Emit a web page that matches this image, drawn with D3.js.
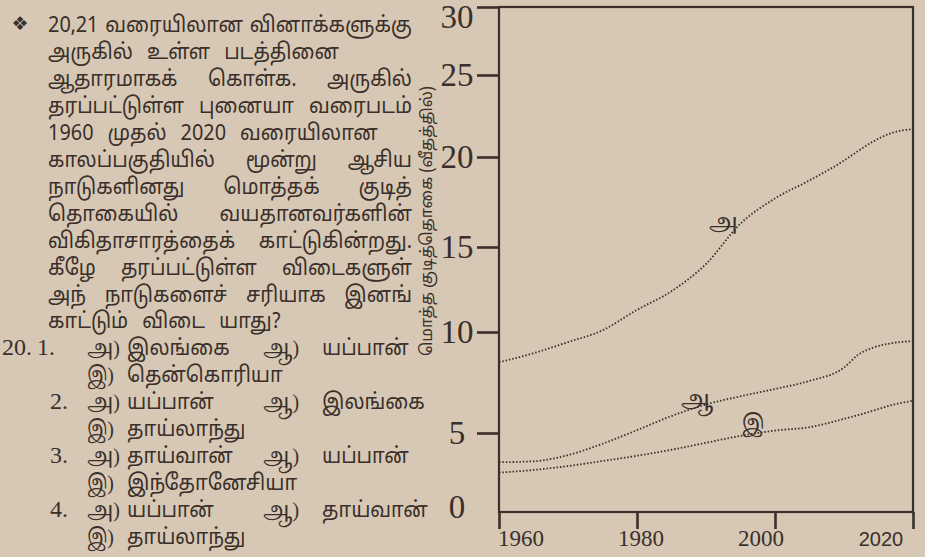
<!DOCTYPE html>
<html><head><meta charset="utf-8">
<script src="https://cdn.jsdelivr.net/npm/d3@7"></script>
<style>
html,body{margin:0;padding:0;background:#d6c8b4;}
svg{display:block;}
</style></head><body>
<svg id="c" width="925" height="557"></svg>
<script>
// ---------- data ----------
const years    = [1960,1965,1970,1975,1980,1985,1990,1995,2000,2005,2010,2012,2014,2017,2020];
const seriesA  = [8.5,8.95,9.5,10.1,11.3,12.4,14.0,16.3,17.7,18.7,19.8,20.35,20.89,21.48,21.7];
const seriesAa = [3.15,3.21,3.6,4.32,5.14,5.84,6.41,6.82,7.18,7.58,8.24,8.86,9.2,9.45,9.55];
const seriesI  = [2.49,2.66,2.91,3.23,3.56,3.94,4.38,4.82,5.12,5.29,5.7,5.88,6.08,6.39,6.6];
const seriesNames = ["அ","ஆ","இ"];
const labelYears  = [1992.5, 1988.7, 1996.8];
const labelValues = [16.4, 6.73, 5.5];
const yTicks = [0,5,10,15,20,25,30];
const xTicks = [1960,1980,2000,2020];
const yTitle = "மொத்த குடித்தொகை (வீதத்தில்)";
const questionLines = [
  "20,21 வரையிலான வினாக்களுக்கு",
  "அருகில் உள்ள படத்தினை",
  "ஆதாரமாகக் கொள்க. அருகில்",
  "தரப்பட்டுள்ள புனையா வரைபடம்",
  "1960 முதல் 2020 வரையிலான",
  "காலப்பகுதியில் மூன்று ஆசிய",
  "நாடுகளினது மொத்தக் குடித்",
  "தொகையில் வயதானவர்களின்",
  "விகிதாசாரத்தைக் காட்டுகின்றது.",
  "கீழே தரப்பட்டுள்ள விடைகளுள்",
  "அந் நாடுகளைச் சரியாக இனங்",
  "காட்டும் விடை யாது?"
];
const questionNo = "20.";
const optionNos = ["1.","2.","3.","4."];
const optionA = ["இலங்கை","யப்பான்","தாய்வான்","யப்பான்"];
const optionAa = ["யப்பான்","இலங்கை","யப்பான்","தாய்வான்"];
const optionI = ["தென்கொரியா","தாய்லாந்து","இந்தோனேசியா","தாய்லாந்து"];

// ---------- setup ----------
const ink = "#3a2f2a";
const tamil = "'Noto Sans Tamil','Lohit Tamil','Latha','Noto Sans',sans-serif";
const serifT = "'Liberation Serif','Noto Serif Tamil','Noto Sans Tamil',serif";
const svg = d3.select("#c");
svg.append("rect").attr("width",925).attr("height",557).attr("fill","#d6c8b4");

// hand-drawn axis calibration (piecewise linear)
const y = d3.scaleLinear().domain(yTicks).range([512,433,332,247,157,75,7]);
const x = d3.scaleLinear().domain([1960,2020]).range([499,913]);
const xLab = d3.scaleLinear().domain([1960,2020]).range([521,881]);

const chart = svg.append("g");
const [x0,x1] = x.range();
chart.append("rect").attr("x",x0).attr("y",y(30)).attr("width",x1-x0).attr("height",y(0)-y(30))
  .attr("fill","none").attr("stroke",ink).attr("stroke-width",2.2);

// y ticks
const ya = chart.append("g").attr("transform",`translate(${x0},0)`)
  .call(d3.axisLeft(y).tickValues(yTicks.filter(v=>v>0)).tickSize(22).tickFormat(""));
ya.select(".domain").remove();
ya.selectAll("line").attr("stroke",ink).attr("stroke-width",2.6);
chart.selectAll(".ylab").data(yTicks).join("text").attr("class","ylab")
  .attr("x",457).attr("y",d=>Math.min(Math.max(y(d),17),507))
  .attr("text-anchor","middle").attr("dominant-baseline","central")
  .attr("font-family","'Liberation Serif',serif").attr("font-size",33).attr("fill",ink)
  .text(d=>d);

// x ticks
const xa = chart.append("g").attr("transform",`translate(0,${y(0)})`)
  .call(d3.axisBottom(x).tickValues(xTicks).tickSize(17).tickFormat(""));
xa.select(".domain").remove();
xa.selectAll("line").attr("stroke",ink).attr("stroke-width",2.6);
chart.selectAll(".xlab").data(xTicks).join("text").attr("class","xlab")
  .attr("x",d=>xLab(d)).attr("y",546).attr("text-anchor","middle")
  .attr("font-family",(d,i)=> i===xTicks.length-1 ? "'Liberation Sans',sans-serif" : "'Liberation Serif',serif")
  .attr("font-size",(d,i)=> i===xTicks.length-1 ? 20 : 23).attr("fill",ink)
  .text(d=>d);

// y title
chart.append("text").attr("transform","translate(432,221) rotate(-90)")
  .attr("text-anchor","middle").attr("font-family",tamil).attr("font-size",16).attr("fill",ink)
  .attr("textLength",270).attr("lengthAdjust","spacingAndGlyphs")
  .text(yTitle);

// series
const series = [seriesA, seriesAa, seriesI];
const line = d3.line().x((d,i)=>x(years[i])).y(d=>y(d)).curve(d3.curveMonotoneX);
chart.selectAll(".ser").data(series).join("path").attr("class","ser")
  .attr("d",line).attr("fill","none").attr("stroke",ink)
  .attr("stroke-width",1.8).attr("stroke-dasharray","1.5 1.9");
chart.selectAll(".slab").data(seriesNames).join("text").attr("class","slab")
  .attr("x",(d,i)=>x(labelYears[i])).attr("y",(d,i)=>y(labelValues[i]))
  .attr("text-anchor","middle").attr("dominant-baseline","central")
  .attr("font-family",serifT).attr("font-size",22).attr("fill",ink).text(d=>d);

// ---------- question text ----------
const FS = 22;
const tg = svg.append("g").attr("fill",ink).attr("font-family",tamil).attr("font-size",FS);
function measure(t, g){ const n = (g||tg).append("text").text(t); const w = n.node().getComputedTextLength(); n.remove(); return w; }
// horizontal compression so the Tamil face matches the printed face's width
const sx = Math.min(1, 136 / measure("தரப்பட்டுள்ள"));
function word(g, t, xx, yy, fam){
  const n = g.append("text").attr("transform",`translate(${xx},${yy}) scale(${sx},1)`).text(t);
  if (fam) n.attr("font-family",fam);
  return n;
}
const lineH = 26.95, top0 = 32, left = 48, right = 412;
const raggedLines = new Set([1, 4, 11]);   // lines set without justification in the print
questionLines.forEach((ln,li)=>{
  const words = ln.split(" ");
  const ws = words.map(w=>measure(w)*sx);
  const tot = d3.sum(ws);
  const gap = raggedLines.has(li) ? 14 : (right-left-tot)/(words.length-1);
  let cx = left;
  words.forEach((w,wi)=>{ word(tg, w, cx, top0+li*lineH); cx += ws[wi]+gap; });
});
svg.append("text").attr("x",20).attr("y",23).attr("text-anchor","middle").attr("dominant-baseline","central")
  .attr("font-family","'DejaVu Sans',sans-serif").attr("font-size",19).attr("fill",ink).text("❖");

// options
const og = svg.append("g").attr("fill",ink).attr("font-size",FS).attr("font-family",tamil);
const baseRow = questionLines.length;
og.append("text").attr("x",2).attr("y",top0+baseRow*lineH).attr("font-family","'Liberation Serif',serif").attr("font-size",24).text(questionNo);
optionNos.forEach((n,k)=>{
  const r1 = top0+(baseRow+2*k)*lineH, r2 = r1+lineH;
  og.append("text").attr("x",k===0?37:50).attr("y",r1).attr("font-family","'Liberation Serif',serif").attr("font-size",24).text(n);
  word(og,"அ)",87,r1,serifT);
  word(og,optionA[k],127,r1);
  word(og,"ஆ)",263,r1,serifT);
  word(og,optionAa[k],322,r1);
  word(og,"இ)",87,r2,serifT);
  word(og,optionI[k],127,r2);
});
</script>
</body></html>
